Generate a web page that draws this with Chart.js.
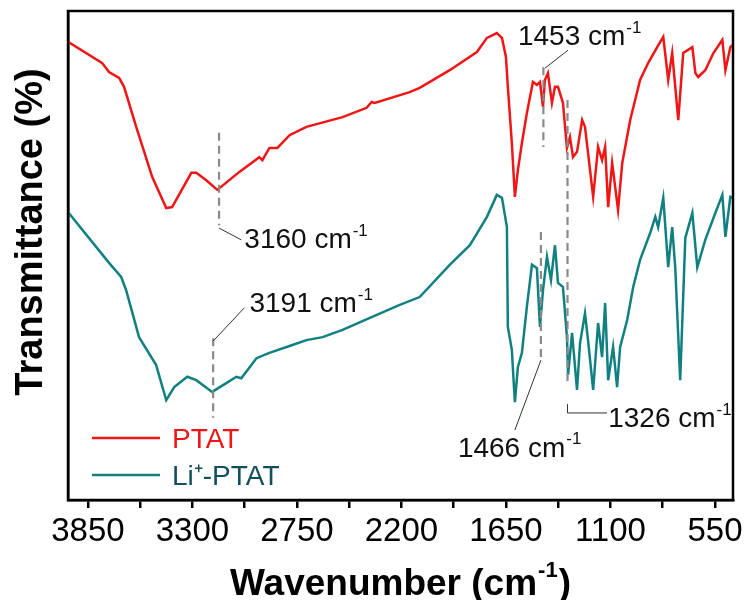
<!DOCTYPE html>
<html>
<head>
<meta charset="utf-8">
<title>FTIR PTAT</title>
<script src="https://cdn.jsdelivr.net/npm/chart.js@4.4.1/dist/chart.umd.min.js"></script>
<style>
  body { margin: 0; background: #fff; }
  #wrap { width: 749px; height: 600px; }
</style>
</head>
<body>
<div id="wrap"><canvas id="ftir" width="749" height="600"></canvas></div>
<script>
// wavenumber (cm-1) and transmittance (a.u.)
const ptatWavenumber = [3955, 3776, 3739, 3686, 3660, 3596, 3512, 3438, 3407, 3306, 3280, 3227, 3169, 3053, 2948, 2932, 2895, 2853, 2789, 2700, 2510, 2383, 2357, 2341, 2157, 2104, 1946, 1803, 1750, 1698, 1671, 1650, 1640, 1619, 1603, 1587, 1566, 1540, 1508, 1487, 1471, 1455, 1445, 1429, 1408, 1392, 1376, 1350, 1329, 1313, 1297, 1276, 1249, 1234, 1218, 1191, 1165, 1144, 1128, 1112, 1091, 1075, 1060, 1038, 996, 944, 901, 854, 822, 796, 775, 743, 717, 669, 653, 638, 601, 558, 511, 495, 469, 458];
const ptatT = [93.7, 89.4, 87.5, 86.3, 84.5, 76.3, 66.1, 59.7, 59.9, 66.9, 66.9, 65.4, 63.4, 67.1, 70.1, 69.5, 72.0, 72.0, 74.6, 76.3, 78.3, 80.2, 81.4, 81.2, 83.4, 84.3, 87.9, 91.6, 94.5, 95.5, 94.5, 90.6, 84.5, 73.0, 62.0, 67.5, 73.0, 79.1, 85.5, 84.9, 85.5, 80.4, 85.9, 87.3, 81.2, 84.5, 84.5, 81.2, 72.0, 74.2, 70.1, 71.2, 77.7, 76.3, 71.0, 62.0, 72.2, 69.5, 72.2, 59.9, 68.9, 64.0, 59.3, 68.9, 77.7, 85.9, 89.4, 92.6, 94.7, 85.9, 91.4, 77.7, 91.4, 92.6, 87.3, 86.5, 87.9, 91.4, 94.1, 87.9, 92.6, 93.0];

const liWavenumber = [3955, 3739, 3675, 3649, 3581, 3491, 3438, 3396, 3327, 3280, 3196, 3122, 3069, 3043, 2963, 2895, 2774, 2700, 2615, 2510, 2357, 2209, 2104, 1946, 1840, 1750, 1698, 1671, 1645, 1640, 1619, 1603, 1587, 1566, 1540, 1513, 1487, 1471, 1455, 1434, 1413, 1392, 1376, 1350, 1329, 1323, 1302, 1276, 1260, 1234, 1218, 1191, 1165, 1144, 1128, 1112, 1086, 1065, 1049, 1012, 980, 944, 891, 864, 849, 822, 796, 775, 759, 733, 706, 669, 643, 601, 548, 511, 495, 469, 458];
const liT = [58.9, 48.5, 45.6, 42.9, 33.3, 27.6, 20.4, 23.1, 25.2, 24.5, 22.1, 23.9, 25.2, 24.9, 29.0, 30.1, 31.7, 32.7, 33.3, 34.8, 37.4, 39.9, 41.5, 48.1, 52.1, 57.9, 62.4, 61.8, 55.8, 35.4, 30.7, 20.0, 27.2, 30.1, 39.5, 48.1, 47.4, 35.4, 42.9, 49.7, 45.0, 52.1, 44.4, 43.6, 33.3, 25.6, 34.2, 22.5, 32.1, 38.2, 32.7, 22.5, 36.2, 29.2, 40.3, 24.5, 31.3, 23.1, 31.3, 36.8, 43.6, 49.1, 54.6, 57.9, 55.8, 61.8, 47.6, 55.8, 47.6, 24.5, 53.6, 58.7, 47.6, 53.2, 58.7, 62.4, 53.8, 62.0, 61.8];

const seriesNames = ["PTAT", "Li\u207A-PTAT"];
const tickValues = [3850, 3575, 3300, 3025, 2750, 2475, 2200, 1925, 1650, 1375, 1100, 825, 550];
const tickLabels = [3850, 3300, 2750, 2200, 1650, 1100, 550];
const peakWavenumbers = [3160, 3191, 1453, 1326, 1466];

const red = "#f01616";
const teal = "#118080";
const FONT = "'Liberation Sans', Arial, Helvetica, sans-serif";

// dashed marker, leader line and label for each peak (data coordinates)
const peakMarks = [
  { dash: [75.1, 56.2], lead: [[3160, 55.6], [3043, 53.2]], text: [3027, 51.5] },
  { dash: [33.1, 16.8], lead: [[3191, 32.5], [3027, 39.3]], text: [3000, 38.4] },
  { dash: [88.5, 72.2], lead: [[1445, 88.3], [1323, 92.0]], text: [1587, 93.0] },
  { dash: [81.8, 23.5], lead: [[1326, 19.6], [1326, 17.8], [1118, 17.8]], text: [1112, 14.9] },
  { dash: [54.8, 29.0], lead: [[1466, 28.6], [1603, 14.3]], text: [1903, 8.8] }
];

function toPoints(xs, ys) {
  return xs.map(function (v, i) { return { x: v, y: ys[i] }; });
}

function drawCm(ctx, label, x, y, size) {
  ctx.font = size + "px " + FONT;
  ctx.textAlign = "left";
  ctx.textBaseline = "alphabetic";
  ctx.fillText(label, x, y);
  var w = ctx.measureText(label).width;
  ctx.font = Math.round(size * 0.6) + "px " + FONT;
  ctx.fillText("-1", x + w + 1, y - size * 0.45);
}

const peaksPlugin = {
  id: "peaks",
  afterDatasetsDraw(chart) {
    const ctx = chart.ctx;
    const xs = chart.scales.x, ys = chart.scales.y;
    ctx.save();
    peakMarks.forEach(function (m, i) {
      var wn = peakWavenumbers[i];
      var px = xs.getPixelForValue(wn);
      ctx.strokeStyle = "#8a8a8a";
      ctx.lineWidth = 2.2;
      ctx.setLineDash([8, 5]);
      ctx.beginPath();
      ctx.moveTo(px, ys.getPixelForValue(m.dash[0]));
      ctx.lineTo(px, ys.getPixelForValue(m.dash[1]));
      ctx.stroke();
      ctx.setLineDash([]);
      ctx.strokeStyle = "#333";
      ctx.lineWidth = 1;
      ctx.beginPath();
      m.lead.forEach(function (p, j) {
        var lx = xs.getPixelForValue(p[0]), ly = ys.getPixelForValue(p[1]);
        if (j === 0) ctx.moveTo(lx, ly); else ctx.lineTo(lx, ly);
      });
      ctx.stroke();
      ctx.fillStyle = "#111";
      drawCm(ctx, wn + " cm", xs.getPixelForValue(m.text[0]), ys.getPixelForValue(m.text[1]), 28);
    });
    ctx.restore();
  },
  afterDraw(chart) {
    const ctx = chart.ctx;
    const a = chart.chartArea;
    ctx.save();
    // frame
    ctx.strokeStyle = "#000";
    ctx.lineWidth = 2.5;
    ctx.strokeRect(a.left, a.top, a.right - a.left, a.bottom - a.top);

    // legend inside the plot
    var cols = [red, teal], txt = [red, "#124f5c"];
    seriesNames.forEach(function (name, i) {
      var ly = a.bottom - 62 + i * 37;
      ctx.strokeStyle = cols[i];
      ctx.lineWidth = 2.5;
      ctx.beginPath();
      ctx.moveTo(a.left + 24, ly);
      ctx.lineTo(a.left + 92, ly);
      ctx.stroke();
      ctx.fillStyle = txt[i];
      ctx.font = "28px " + FONT;
      ctx.textAlign = "left";
      ctx.textBaseline = "alphabetic";
      ctx.fillText(name, a.left + 104, ly + 10);
    });

    // axis titles
    ctx.fillStyle = "#000";
    ctx.save();
    ctx.translate(42, 232);
    ctx.rotate(-Math.PI / 2);
    ctx.font = "bold 38px " + FONT;
    ctx.textAlign = "center";
    ctx.textBaseline = "alphabetic";
    ctx.fillText("Transmittance (%)", 0, 0);
    ctx.restore();

    var big = "bold 37px " + FONT, small = "bold 22px " + FONT;
    ctx.font = big;
    var t1 = "Wavenumber (cm", t2 = ")";
    var w1 = ctx.measureText(t1).width;
    var w2 = ctx.measureText(t2).width;
    ctx.font = small;
    var ws = ctx.measureText("-1").width;
    var start = (a.left + a.right) / 2 - (w1 + ws + w2 + 2) / 2;
    ctx.textAlign = "left";
    ctx.font = big;
    ctx.fillText(t1, start, 595);
    ctx.fillText(t2, start + w1 + ws + 2, 595);
    ctx.font = small;
    ctx.fillText("-1", start + w1 + 1, 577);
    ctx.restore();
  }
};

const ctx = document.getElementById("ftir").getContext("2d");
const ftirChart = new Chart(ctx, {
  type: "line",
  data: {
    datasets: [
      {
        label: seriesNames[0],
        data: toPoints(ptatWavenumber, ptatT),
        borderColor: red,
        borderWidth: 2.5,
        pointRadius: 0,
        tension: 0,
      },
      {
        label: seriesNames[1],
        data: toPoints(liWavenumber, liT),
        borderColor: teal,
        borderWidth: 2.5,
        pointRadius: 0,
        tension: 0,
      },
    ],
  },
  options: {
    responsive: false,
    animation: false,
    layout: { padding: { left: 0, right: 16, top: 11, bottom: 0 } },
    plugins: { legend: { display: false }, tooltip: { enabled: false } },
    scales: {
      x: {
        type: "linear",
        reverse: true,
        min: 455,
        max: 3955,
        afterBuildTicks: function (scale) {
          scale.ticks = tickValues.map(function (v) { return { value: v }; });
        },
        afterFit: function (scale) {
          scale.height = 100;
          scale.paddingLeft = 0;
          scale.paddingRight = 0;
        },
        ticks: {
          autoSkip: false,
          maxRotation: 0,
          padding: 4,
          color: "#000",
          font: { family: FONT, size: 33 },
          callback: function (v) { return tickLabels.indexOf(v) >= 0 ? String(v) : ""; },
        },
        grid: { drawOnChartArea: false, tickLength: 8, color: "#000", lineWidth: 2.5 },
        border: { color: "#000", width: 2.5 },
      },
      y: {
        min: 0,
        max: 100,
        afterFit: function (scale) {
          scale.width = 68;
          scale.paddingTop = 0;
          scale.paddingBottom = 0;
        },
        ticks: { display: false },
        grid: { display: false },
        border: { color: "#000", width: 2.5 },
      },
    },
  },
  plugins: [peaksPlugin],
});
</script>
</body>
</html>
